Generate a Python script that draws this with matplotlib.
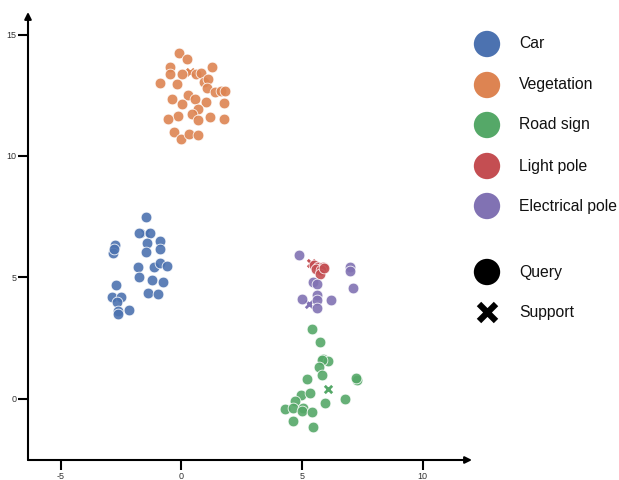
import numpy as np
import matplotlib.pyplot as plt

plt.rcParams['font.family'] = ['Liberation Sans', 'DejaVu Sans']
plt.rcParams['axes.unicode_minus'] = False

# --- data ---
car_x = [-1.47, -1.75, -1.28, -1.42, -0.86, -1.46, -0.90, -2.76, -2.82, -2.79,
         -1.79, -1.13, -0.88, -0.58, -1.74, -1.22, -0.76, -1.36, -0.97, -2.72,
         -2.88, -2.50, -2.68, -2.61, -2.18, -2.64]
car_y = [7.50, 6.84, 6.82, 6.41, 6.49, 6.05, 6.19, 6.34, 6.00, 6.17,
         5.42, 5.44, 5.61, 5.46, 5.01, 4.90, 4.81, 4.37, 4.33, 4.70,
         4.21, 4.21, 3.99, 3.63, 3.66, 3.49]
car_sx, car_sy = [-1.50], [6.83]

veg_x = [-0.10, 0.22, -0.46, 1.28, -0.46, 0.03, 0.60, 0.82, 0.95, 1.10,
         -0.88, -0.17, 1.07, 1.39, 1.63, 1.83, 0.28, -0.40, 0.55, 0.03,
         1.01, 1.78, 0.71, 0.46, -0.14, -0.55, 0.68, 1.21, 1.78, -0.32,
         -0.01, 0.32, 0.68]
veg_y = [14.23, 13.99, 13.67, 13.66, 13.37, 13.36, 13.36, 13.40, 13.03, 13.16,
         12.99, 12.98, 12.79, 12.63, 12.67, 12.67, 12.52, 12.35, 12.36, 12.14,
         12.22, 12.19, 11.93, 11.73, 11.63, 11.51, 11.48, 11.62, 11.51, 10.98,
         10.69, 10.89, 10.86]
veg_sx, veg_sy = [0.38], [13.44]

sign_x = [5.42, 5.74, 5.89, 6.07, 5.82, 5.70, 5.82, 5.21, 7.30, 7.25,
          4.96, 5.32, 4.71, 6.78, 5.95, 4.28, 4.64, 5.04, 4.99, 5.42,
          4.64, 5.47]
sign_y = [2.89, 2.33, 1.65, 1.56, 1.60, 1.30, 1.00, 0.81, 0.77, 0.84,
          0.16, 0.25, -0.08, -0.01, -0.18, -0.40, -0.38, -0.36, -0.52, -0.55,
          -0.93, -1.16]
sign_sx, sign_sy = [6.08], [0.40]

light_x = [5.51, 5.65, 5.86, 5.58, 5.79, 5.75, 5.90]
light_y = [5.51, 5.44, 5.44, 5.34, 5.31, 5.14, 5.38]
light_sx, light_sy = [5.38], [5.58]

elec_x = [4.90, 7.00, 6.99, 7.13, 5.46, 5.63, 4.99, 5.61, 5.61, 5.61, 6.20]
elec_y = [5.91, 5.44, 5.28, 4.58, 4.80, 4.73, 4.13, 4.29, 4.05, 3.73, 4.07]
elec_sx, elec_sy = [5.28], [3.90]

labels = ['Car', 'Vegetation', 'Road sign', 'Light pole', 'Electrical pole']
colors = ['#4C72B0', '#DD8452', '#55A868', '#C44E52', '#8172B3']
queries = [(car_x, car_y), (veg_x, veg_y), (sign_x, sign_y),
           (light_x, light_y), (elec_x, elec_y)]
supports = [(car_sx, car_sy), (veg_sx, veg_sy), (sign_sx, sign_sy),
            (light_sx, light_sy), (elec_sx, elec_sy)]

xticks = [-5, 0, 5, 10]
yticks = [0, 5, 10, 15]

fig = plt.figure(figsize=(6.19, 4.80), dpi=100)
ax = fig.add_axes([28/619, 20/480, 444/619, 448/480])

for (qx, qy), (sx, sy), c in zip(queries, supports, colors):
    ax.scatter(sx, sy, marker='x', s=28, color=c, linewidths=2, zorder=2)
    ax.scatter(qx, qy, s=60, color=c, edgecolor='white', linewidth=0.6,
               alpha=0.9, zorder=3)

ax.set_xlim(-6.35, 12.05)
ax.set_ylim(-2.52, 15.93)
ax.set_xticks(xticks)
ax.set_yticks(yticks)
ax.tick_params(length=7, width=1.5, labelsize=6.5, colors='black',
               labelcolor='#333333', pad=1.5)
for s in ['top', 'right', 'left', 'bottom']:
    ax.spines[s].set_visible(False)
ax.annotate('', xy=(1, 0), xytext=(0, 0), xycoords='axes fraction',
            arrowprops=dict(arrowstyle='-|>', lw=1.5, color='black', mutation_scale=10,
                            shrinkA=0, shrinkB=0))
ax.annotate('', xy=(0, 1), xytext=(0, 0), xycoords='axes fraction',
            arrowprops=dict(arrowstyle='-|>', lw=1.5, color='black', mutation_scale=10,
                            shrinkA=0, shrinkB=0))

# --- legend drawn in figure pixel space ---
lax = fig.add_axes([0, 0, 1, 1])
lax.set_xlim(0, 619)
lax.set_ylim(480, 0)
lax.axis('off')
leg_y = [44, 85, 125, 166, 206]
for y, c, lab in zip(leg_y, colors, labels):
    lax.scatter([487], [y], s=360, color=c, edgecolor='none')
    lax.text(519, y, lab, fontsize=11.3, va='center', ha='left', color='#111111')
lax.scatter([487], [272], s=360, color='black', edgecolor='none')
lax.text(519, 272, 'Query', fontsize=11.3, va='center', ha='left', color='#111111')
lax.scatter([487], [312], s=150, marker='x', color='black', linewidths=4.5)
lax.text(519, 312, 'Support', fontsize=11.3, va='center', ha='left', color='#111111')

fig.savefig('out.png', dpi=100)
